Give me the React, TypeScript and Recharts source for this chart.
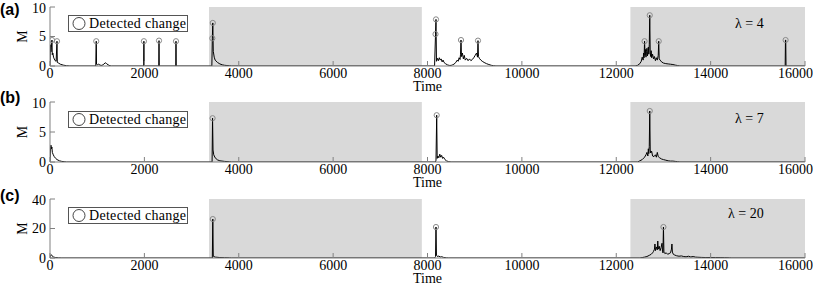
import React from "react";
import {
    ComposedChart, Line, Scatter,
    XAxis, YAxis,
    ReferenceArea,
    Label
} from "recharts";

// time ticks shared by all three panels
const TIME_TICKS = [0, 2000, 4000, 6000, 8000, 10000, 12000, 14000, 16000];

// shaded intervals (time)
const SHADE_1 = [3370, 7880];
const SHADE_2 = [12300, 16000];

// panel (a), lambda = 4 : [time, M]
const seriesA: number[][] = [
    [0, 0], [10, 3.6], [20, 2.4], [30, 3.2], [42, 4.4], [48, 1.9], [60, 2.2], [75, 1.5], [90, 1.2],
    [110, 0.9], [130, 0.8], [148, 4.2], [155, 0.6], [180, 0.5], [220, 0.3], [280, 0.15], [350, 0.05], [420, 0],
    [970, 0], [980, 4.2], [986, 0.3], [1000, 0.2], [1030, 0.3], [1060, 0.15], [1100, 0.1], [1140, 0.3],
    [1170, 0.55], [1200, 0.4], [1230, 0.2], [1270, 0.05], [1300, 0],
    [1985, 0], [1990, 4.2], [1995, 0],
    [2305, 0], [2310, 4.3], [2315, 0],
    [2665, 0], [2670, 4.2], [2675, 0],
    [3430, 0], [3440, 4.7], [3450, 7.3], [3460, 2.5], [3480, 1.5], [3500, 1.0], [3550, 0.6], [3600, 0.35],
    [3650, 0.2], [3700, 0.12], [3750, 0.08], [3800, 0.05], [3850, 0],
    [8150, 0], [8170, 5.4], [8180, 7.9], [8190, 0.8], [8210, 1.3], [8230, 0.9], [8250, 1.4], [8270, 1.0],
    [8290, 1.2], [8310, 0.7], [8330, 1.0], [8350, 0.6], [8380, 0.4], [8420, 0.2], [8460, 0.1], [8500, 0.1],
    [8530, 0.2], [8560, 0.3], [8600, 0.6], [8630, 1.0], [8650, 0.8], [8670, 1.4], [8690, 1.1], [8700, 2.0],
    [8710, 4.4], [8720, 1.6], [8740, 2.2], [8760, 1.2], [8780, 1.8], [8800, 1.0], [8830, 1.3], [8860, 0.9],
    [8890, 1.2], [8920, 0.9], [8950, 1.1], [8980, 1.4], [9010, 1.8], [9040, 2.2], [9060, 1.5], [9070, 4.3],
    [9080, 1.6], [9100, 1.3], [9130, 1.0], [9160, 0.8], [9200, 0.6], [9250, 0.4], [9300, 0.25], [9350, 0.12],
    [9400, 0.05], [9450, 0],
    [12400, 0], [12450, 0.1], [12500, 0.4], [12530, 0.8], [12550, 1.5], [12570, 1.0], [12580, 2.2], [12590, 1.4],
    [12600, 4.2], [12610, 1.8], [12620, 2.8], [12630, 1.5], [12640, 2.5], [12650, 3.0], [12660, 1.7], [12670, 2.4],
    [12680, 3.2], [12690, 2.0], [12700, 3.6], [12710, 8.6], [12720, 2.2], [12730, 1.6], [12740, 2.6], [12750, 1.4],
    [12770, 2.0], [12790, 1.2], [12810, 1.6], [12830, 0.9], [12850, 1.4], [12870, 1.0], [12890, 1.8], [12900, 4.2],
    [12910, 1.2], [12930, 1.0], [12960, 0.7], [13000, 0.5], [13050, 0.4], [13100, 0.35], [13150, 0.3],
    [13200, 0.25], [13250, 0.15], [13300, 0.08], [13350, 0],
    [15580, 0], [15586, 4.4], [15592, 4.4], [15598, 0], [16000, 0]
];
const changesA: number[][] = [
    [42, 4.4], [148, 4.2], [980, 4.2], [1990, 4.2], [2310, 4.3], [2670, 4.2], [3440, 4.7], [3450, 7.3],
    [8170, 5.4], [8180, 7.9], [8710, 4.4], [9070, 4.3], [12600, 4.2], [12710, 8.6], [12900, 4.2], [15589, 4.4]
];

// panel (b), lambda = 7
const seriesB: number[][] = [
    [0, 0], [10, 2.0], [20, 2.8], [30, 2.2], [40, 2.5], [50, 1.6], [70, 1.2], [90, 0.9], [120, 0.6],
    [150, 0.4], [200, 0.2], [250, 0.1], [300, 0.05], [350, 0],
    [3435, 0], [3445, 7.3], [3455, 2.0], [3470, 1.2], [3500, 0.7], [3550, 0.35], [3600, 0.2], [3700, 0.1],
    [3800, 0.04], [3850, 0],
    [8170, 0], [8180, 0.3], [8195, 7.8], [8205, 0.6], [8220, 1.0], [8240, 0.7], [8260, 1.3], [8280, 0.8],
    [8300, 1.1], [8320, 0.6], [8340, 0.8], [8370, 0.4], [8400, 0.2], [8450, 0.05], [8500, 0],
    [12450, 0], [12500, 0.2], [12550, 0.4], [12600, 0.8], [12630, 1.2], [12650, 1.6], [12670, 1.0], [12680, 2.2],
    [12690, 1.4], [12700, 2.6], [12710, 8.5], [12720, 2.0], [12730, 1.5], [12750, 1.8], [12770, 1.0], [12800, 0.9],
    [12830, 1.2], [12850, 0.8], [12870, 1.6], [12890, 0.9], [12920, 0.7], [12960, 0.5], [13000, 0.4],
    [13050, 0.3], [13100, 0.2], [13150, 0.15], [13200, 0.15], [13250, 0.1], [13300, 0.05], [13350, 0],
    [16000, 0]
];
const changesB: number[][] = [[3445, 7.3], [8195, 7.8], [12710, 8.5]];

// panel (c), lambda = 20
const seriesC: number[][] = [
    [0, 0], [10, 1.8], [30, 2.2], [50, 1.2], [80, 0.6], [120, 0.3], [180, 0.1], [250, 0],
    [3440, 0], [3450, 26.4], [3460, 1.2], [3500, 0.6], [3600, 0.3], [3700, 0.2], [3800, 0.1], [3850, 0],
    [8150, 0], [8170, 1.0], [8180, 21], [8190, 2.0], [8210, 1.0], [8240, 1.3], [8270, 0.7], [8300, 0.9],
    [8340, 0.4], [8400, 0.1], [8450, 0],
    [12500, 0], [12550, 0.3], [12600, 0.6], [12650, 1.0], [12700, 1.8], [12740, 2.5], [12770, 3.5], [12790, 4.5],
    [12810, 6.0], [12820, 9.5], [12830, 5.0], [12850, 7.5], [12870, 5.5], [12880, 11.5], [12890, 6.0],
    [12910, 8.0], [12930, 5.0], [12950, 7.0], [12970, 10.0], [12980, 4.5], [12990, 3.5], [13000, 21],
    [13010, 4.0], [13030, 3.0], [13060, 3.5], [13090, 2.5], [13120, 3.0], [13150, 3.5], [13170, 6.0],
    [13180, 9.5], [13190, 4.0], [13210, 2.5], [13240, 2.0], [13280, 1.5], [13330, 1.2], [13380, 1.4],
    [13430, 1.0], [13480, 0.8], [13530, 1.2], [13580, 0.7], [13630, 1.0], [13680, 0.6], [13730, 0.5],
    [13800, 0.4], [13900, 0.3], [14000, 0.35], [14100, 0.3], [14200, 0.25], [14300, 0.2], [14400, 0.1],
    [14450, 0], [16000, 0]
];
const changesC: number[][] = [[3450, 26.4], [8180, 21], [13000, 21]];

const FONT = '"Liberation Serif", "Times New Roman", serif';
const FRAME = "#808080";

const toRows = (pts: number[][]) => pts.map(([t, m]) => ({ t, m }));

const Marker = (props: any) => (
    <circle cx={props.cx} cy={props.cy} r={2.6} fill="none" stroke="#8a8a8a" strokeWidth={1} />
);

interface PanelProps {
    top: number;
    plotH: number;
    series: number[][];
    changes: number[][];
    yMax: number;
    yTicks: number[];
}

const Panel = ({ top, plotH, series, changes, yMax, yTicks }: PanelProps) => (
    <div style={{ position: "absolute", left: 0, top }}>
        <ComposedChart
            width={813}
            height={7 + plotH + 30}
            margin={{ top: 7, right: 8, left: 0, bottom: 0 }}
        >
            <XAxis
                dataKey="t"
                type="number"
                domain={[0, 16000]}
                ticks={TIME_TICKS}
                allowDataOverflow
                height={30}
                stroke={FRAME}
                tickSize={-5}
                tickMargin={7}
                tick={{ fill: "#000", fontSize: 14, fontFamily: FONT }}
            >
                <Label value="Time" position="insideBottom" offset={5} fill="#000" fontSize={14} fontFamily={FONT} />
            </XAxis>
            <XAxis
                xAxisId="top"
                orientation="top"
                type="number"
                domain={[0, 16000]}
                ticks={TIME_TICKS}
                allowDataOverflow
                height={0}
                stroke={FRAME}
                tickSize={-5}
                tick={false}
            />
            <YAxis
                type="number"
                domain={[0, yMax]}
                ticks={yTicks}
                allowDataOverflow
                width={50}
                stroke={FRAME}
                tickSize={-5}
                tickMargin={9}
                tick={{ fill: "#000", fontSize: 14, fontFamily: FONT }}
            >
                <Label value="M" angle={-90} position="center" dx={-3} fill="#000" fontSize={14} fontFamily={FONT} />
            </YAxis>
            <YAxis
                yAxisId="right"
                orientation="right"
                type="number"
                domain={[0, yMax]}
                ticks={yTicks}
                allowDataOverflow
                width={0}
                stroke={FRAME}
                tickSize={-5}
                tick={false}
            />
            <ReferenceArea x1={SHADE_1[0]} x2={SHADE_1[1]} y1={0} y2={yMax} fill="#d9d9d9" fillOpacity={1} stroke="none" />
            <ReferenceArea x1={SHADE_2[0]} x2={SHADE_2[1]} y1={0} y2={yMax} fill="#d9d9d9" fillOpacity={1} stroke="none" />
            <Line
                data={toRows(series)}
                dataKey="m"
                type="linear"
                stroke="#000"
                strokeWidth={1}
                dot={false}
                isAnimationActive={false}
            />
            <Scatter
                data={toRows(changes)}
                dataKey="m"
                shape={Marker}
                isAnimationActive={false}
            />
        </ComposedChart>
    </div>
);

const panelLabel = (text: string, top: number) => (
    <div style={{
        position: "absolute", left: 0, top, fontFamily: '"Liberation Sans", Arial, sans-serif',
        fontWeight: "bold", fontSize: 16, lineHeight: "16px"
    }}>{text}</div>
);

const lambdaLabel = (text: string, left: number, top: number) => (
    <div style={{
        position: "absolute", left, top, fontFamily: FONT, fontSize: 14, lineHeight: "14px", whiteSpace: "pre"
    }}>{text}</div>
);

const legendBox = (top: number) => (
    <div style={{
        position: "absolute", left: 68, top, width: 120, height: 17, boxSizing: "border-box",
        border: "1px solid #555", background: "#fff", display: "flex", alignItems: "center"
    }}>
        <svg width={18} height={15} style={{ marginLeft: 2 }}>
            <circle cx={8} cy={7.5} r={6} fill="none" stroke="#444" strokeWidth={1} />
        </svg>
        <span style={{ fontFamily: FONT, fontSize: 14, lineHeight: "14px", letterSpacing: 0.3 }}>Detected change</span>
    </div>
);

export default function App() {
    return (
        <div style={{ position: "absolute", left: 0, top: 0, width: 813, height: 286, background: "#fff" }}>
            <Panel top={0} plotH={59} series={seriesA} changes={changesA} yMax={10} yTicks={[0, 5, 10]} />
            <Panel top={95} plotH={60} series={seriesB} changes={changesB} yMax={10} yTicks={[0, 5, 10]} />
            <Panel top={192} plotH={59} series={seriesC} changes={changesC} yMax={40} yTicks={[0, 20, 40]} />
            {panelLabel("(a)", 2)}
            {panelLabel("(b)", 90)}
            {panelLabel("(c)", 188)}
            {legendBox(15)}
            {legendBox(111)}
            {legendBox(207)}
            {lambdaLabel("λ = 4", 735, 17)}
            {lambdaLabel("λ = 7", 735, 112)}
            {lambdaLabel("λ = 20", 728, 207)}
        </div>
    );
}
